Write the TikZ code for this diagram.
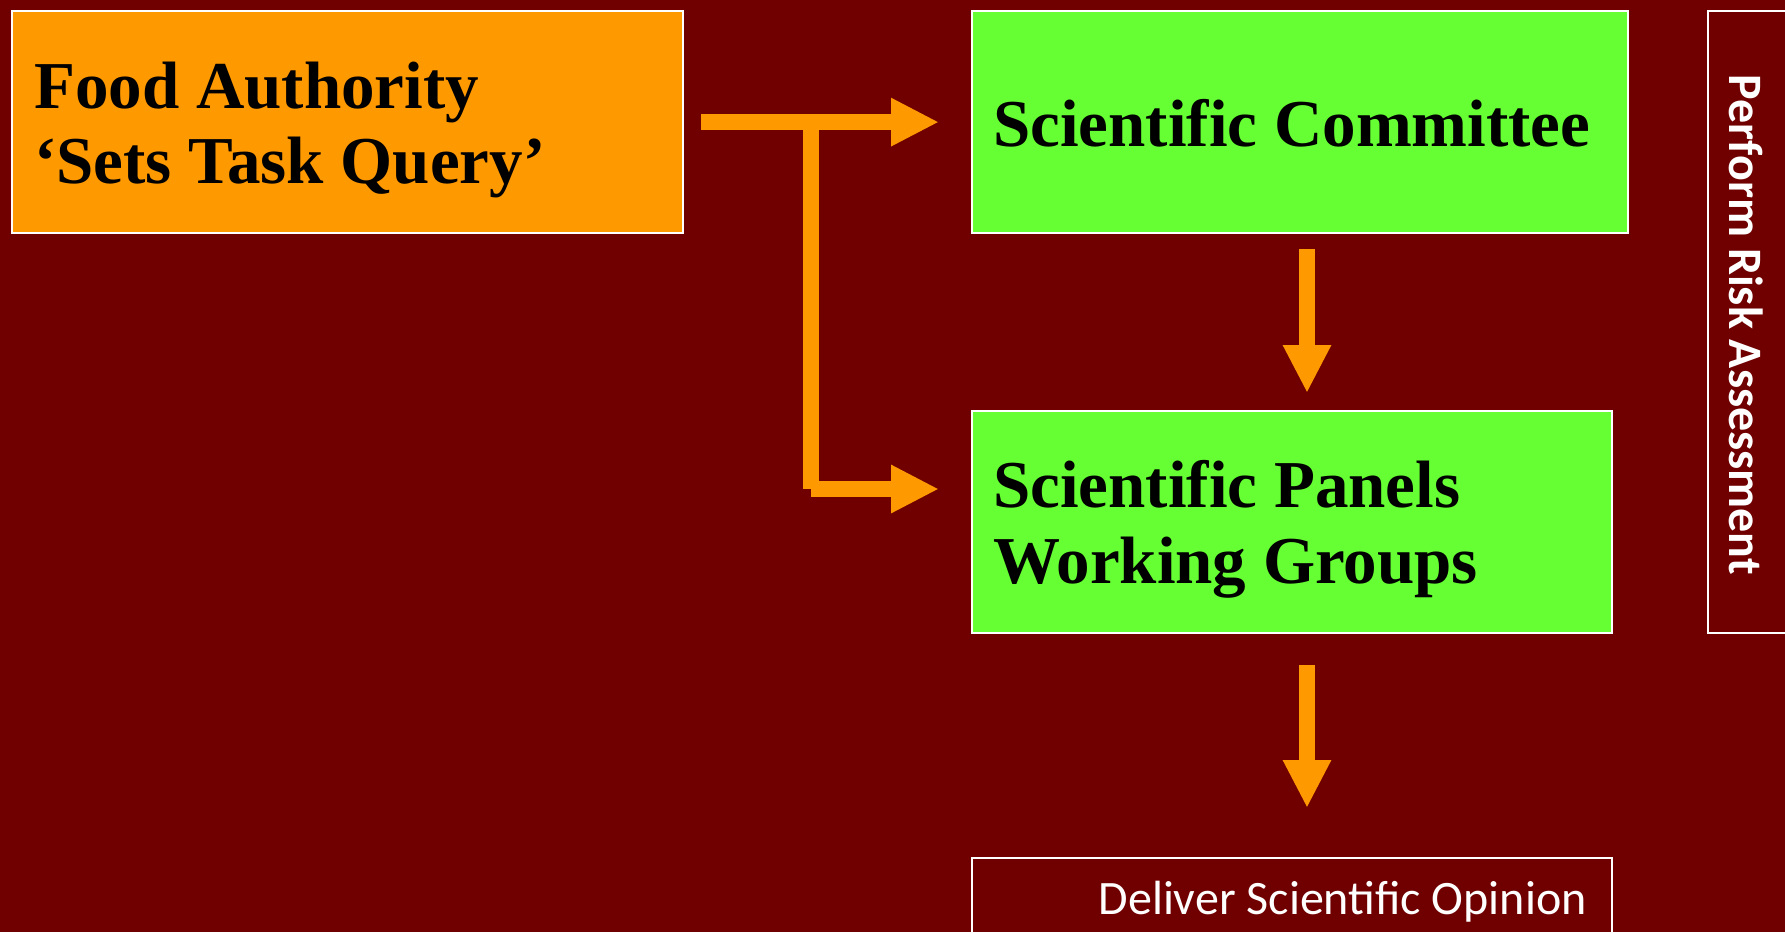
\documentclass[tikz,border=0pt]{standalone}
\usepackage{fontspec}
\setmainfont{Liberation Serif}
\newfontfamily\calib{Carlito}
\usetikzlibrary{arrows.meta}
\definecolor{bg}{HTML}{700000}
\definecolor{org}{HTML}{FF9900}
\definecolor{grn}{HTML}{66FF33}
\begin{document}
\begin{tikzpicture}[x=1pt,y=-1pt,
  box/.style={draw=white,line width=2.2pt,inner sep=0pt,anchor=north west},
  bigtxt/.style={anchor=base west,inner sep=0pt,text=black,font=\fontsize{67}{74}\selectfont\bfseries},
  shaft/.style={draw=org,line width=16pt},
  arr/.style={draw=org,line width=16pt,-{Triangle[length=48pt,width=45pt]}}]
\useasboundingbox (0,0) rectangle (1785,932);
\clip (0,0) rectangle (1785,932);
\fill[bg] (0,0) rectangle (1785,932);
% boxes
\node[box,fill=org,minimum width=671pt,minimum height=222pt] (fa) at (11,10) {};
\node[box,fill=grn,minimum width=656pt,minimum height=222pt] (sc) at (971,10) {};
\node[box,fill=grn,minimum width=640pt,minimum height=222pt] (sp) at (971,410) {};
\node[box,minimum width=640pt,minimum height=120pt] (dso) at (971,857) {};
\node[box,minimum width=120pt,minimum height=622pt] (pra) at (1707,10) {};
% texts
\node[bigtxt] (fat1) at (34,108) {Food Authority};
\node[bigtxt] (fat2) at (34,183) {‘Sets Task Query’};
\node[bigtxt] (sct) at (993,146) {Scientific Committee};
\node[bigtxt] (spt1) at (993,507) {Scientific Panels};
\node[bigtxt] (spt2) at (993,583) {Working Groups};
\node[anchor=base east,inner sep=0pt,text=white,font=\calib\fontsize{48}{56}\selectfont] (dsot) at (1587,914) {Deliver Scientific Opinion};
\node[rotate=-90,inner sep=0pt,text=white,font=\calib\bfseries\fontsize{48}{56}\selectfont] (prat) at (1746,325) {Perform Risk Assessment};
% connectors
\coordinate (a0) at ([xshift=17pt]fa.east);
\coordinate (a1) at ([xshift=-32pt]sc.west);
\coordinate (j) at (811,121);
\coordinate (jb) at (811,489);
\coordinate (spw) at ([xshift=-32pt]sp.west);
\draw[arr] (a0) -- (a1);
\draw[shaft] (j) -- (jb);
\draw[arr] (jb) -- (spw |- jb);
\coordinate (d1) at (1307,249);
\coordinate (spn) at ([yshift=17pt]sp.north);
\draw[arr] (d1) -- (d1 |- spn);
\coordinate (d2) at (1307,665);
\coordinate (dsn) at ([yshift=49pt]dso.north);
\draw[arr] (d2) -- (d2 |- dsn);
\end{tikzpicture}
\end{document}
